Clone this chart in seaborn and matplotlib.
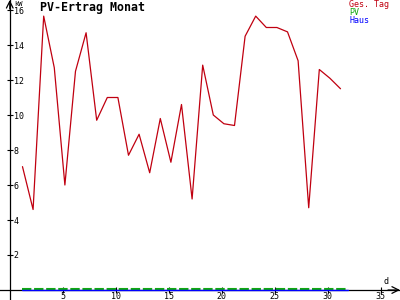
import numpy as np
import pandas as pd
import matplotlib
matplotlib.use("Agg")
import matplotlib.pyplot as plt
import matplotlib.transforms as mtransforms
import seaborn as sns

# ---- data ----
days = list(range(1, 32))
ges_tag = [7.05, 4.6, 15.65, 12.7, 6.0, 12.5, 14.7, 9.7, 11.0, 11.0,
           7.7, 8.9, 6.7, 9.8, 7.3, 10.6, 5.2, 12.85, 10.0, 9.5,
           9.4, 14.5, 15.65, 15.0, 15.0, 14.75, 13.1, 4.7, 12.6, 12.1, 11.5]
pv_days = [1.2, 31.9]
pv_values = [0.0, 0.0]
haus_days = [1.2, 31.9]
haus_values = [0.0, 0.0]
x_ticks = [5, 10, 15, 20, 25, 30, 35]
y_ticks = [2, 4, 6, 8, 10, 12, 14, 16]
title = "PV-Ertrag Monat"
legend_labels = ["Ges. Tag", "PV", "Haus"]

# ---- style ----
day_offset = 0.2
c_red = "#c00010"
c_green = "#10a810"
c_blue = "#0000ff"
mono = "DejaVu Sans Mono"

sns.set_theme(style="white")
plt.rcParams["font.family"] = [mono]

fig = plt.figure(figsize=(4, 3), dpi=100)
ax = fig.add_axes([0, 0, 1, 1])
ax.set_facecolor("white")

df_red = pd.DataFrame({"x": np.array(days) + day_offset, "y": ges_tag})
df_pv = pd.DataFrame({"x": pv_days, "y": pv_values})
df_haus = pd.DataFrame({"x": haus_days, "y": haus_values})

sns.lineplot(data=df_haus, x="x", y="y", ax=ax, color=c_blue, lw=1.0, zorder=4)
green_tr = mtransforms.offset_copy(ax.transData, fig=fig, x=0, y=1.2, units="dots")
sns.lineplot(data=df_pv, x="x", y="y", ax=ax, color=c_green, lw=1.5,
             zorder=3, transform=green_tr)
ax.lines[-1].set_linestyle((0, (4.5, 1.3)))
sns.lineplot(data=df_red, x="x", y="y", ax=ax, color=c_red, lw=0.9, zorder=5)

ax.set_xlim(-10 / 10.86, 390 / 10.86 + 0.9)
ax.set_ylim(-10 / 17.5, 290 / 17.5)

# axes through origin
for s in ["top", "left"]:
    ax.spines[s].set_visible(False)
ax.spines["right"].set_position(("data", 0))
ax.spines["bottom"].set_position(("data", 0))
for s in ["right", "bottom"]:
    ax.spines[s].set_color("black")
    ax.spines[s].set_linewidth(0.9)
    ax.spines[s].set_zorder(2)

ax.yaxis.tick_right()
ax.xaxis.tick_bottom()
ax.set_xticks(x_ticks)
ax.set_xticklabels([str(v) for v in x_ticks])
ax.set_yticks(y_ticks)
ax.set_yticklabels([str(v) for v in y_ticks])
ax.tick_params(axis="both", direction="inout", length=5, width=0.8,
               colors="black", labelsize=6)
ax.tick_params(axis="x", pad=-1.2)
ax.tick_params(axis="y", pad=0.5)
ax.set_xlabel("")
ax.set_ylabel("")

# arrows
ax.annotate("", xy=(1.0, 0), xycoords=("axes fraction", "data"),
            xytext=(0.97, 0), textcoords=("axes fraction", "data"),
            arrowprops=dict(arrowstyle="->", color="black", lw=0.9,
                            shrinkA=0, shrinkB=0))
ax.annotate("", xy=(0, 1.0), xycoords=("data", "axes fraction"),
            xytext=(0, 0.97), textcoords=("data", "axes fraction"),
            arrowprops=dict(arrowstyle="->", color="black", lw=0.9,
                            shrinkA=0, shrinkB=0))

# texts
fig.text(40 / 400, 1 - 7 / 300, title, fontsize=8.4, fontweight="bold",
         family=mono, ha="left", va="center", color="black")
fig.text(14 / 400, 1 - 0.5 / 300, "kW", fontsize=5, family=mono,
         ha="left", va="top", color="black")
fig.text(386 / 400, 1 - 282 / 300, "d", fontsize=6, family=mono,
         ha="center", va="center", color="black")
for i, (lab, col) in enumerate(zip(legend_labels, [c_red, c_green, c_blue])):
    fig.text(349 / 400, 1 - (4.5 + 8 * i) / 300, lab, fontsize=6, family=mono,
             ha="left", va="center", color=col)

fig.savefig("out.png", dpi=100, facecolor="white")
